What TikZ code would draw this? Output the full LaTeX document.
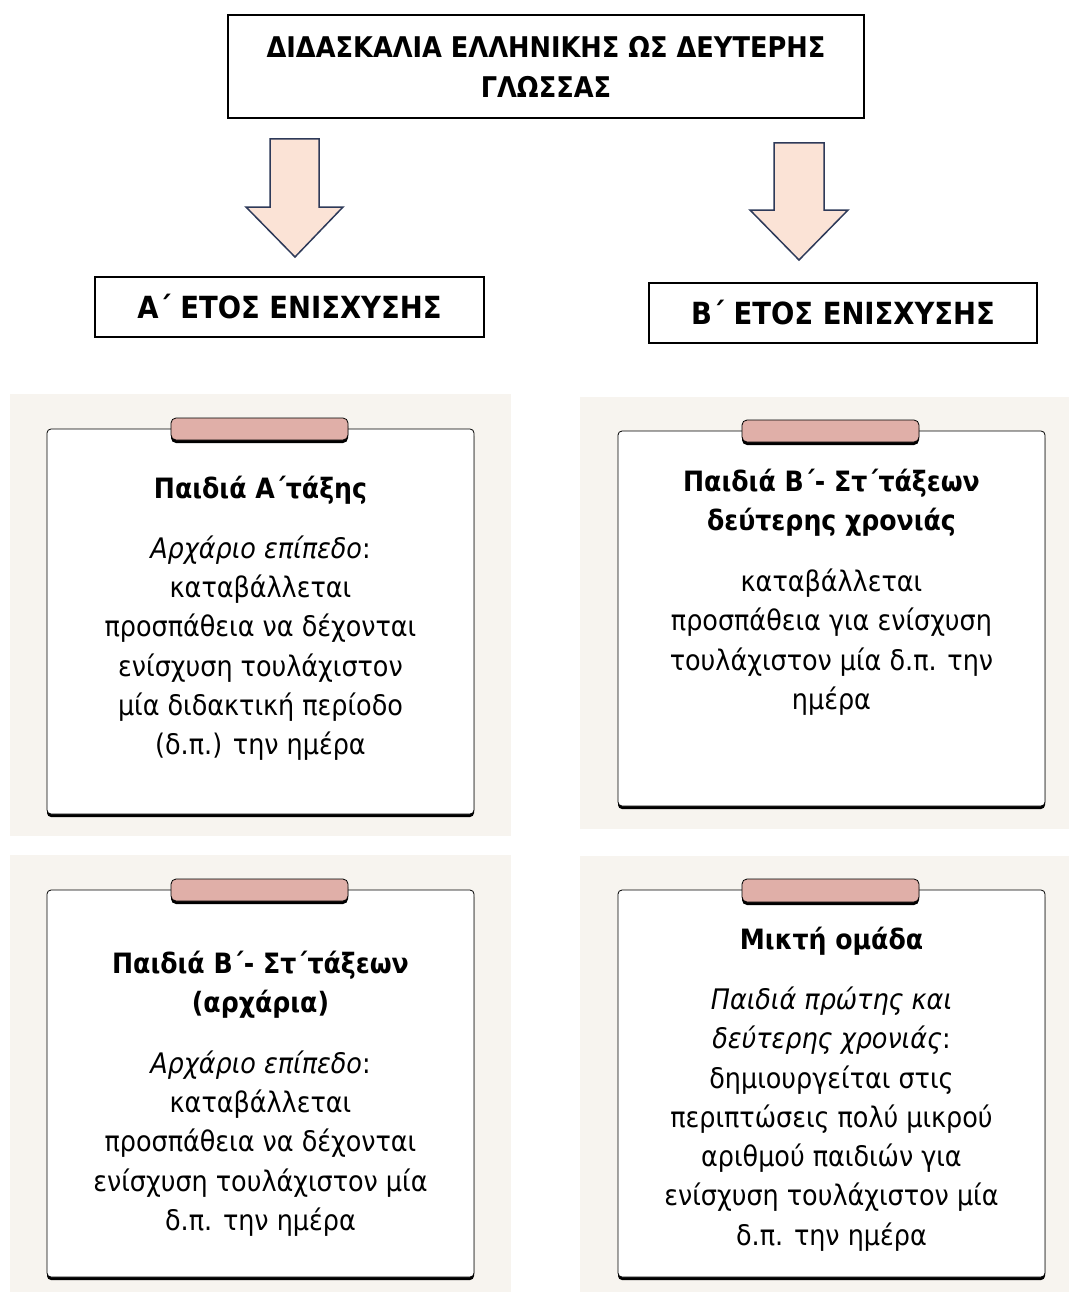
\documentclass[tikz,border=0pt]{standalone}
\usepackage{fontspec}
\setmainfont{DejaVu Sans Condensed}
\definecolor{panelbg}{HTML}{F7F4EF}
\definecolor{tabfill}{HTML}{E0AFA8}
\definecolor{arrowfill}{HTML}{FBE3D6}
\definecolor{arrowline}{HTML}{2E3A59}
\tikzset{
  panel/.style={fill=panelbg, draw=none},
  cardshadow/.style={fill=black, draw=none, rounded corners=4pt},
  card/.style={fill=white, draw=black, line width=0.8pt, rounded corners=4pt},
  tabshadow/.style={fill=black, draw=none, rounded corners=5pt},
  tabbox/.style={fill=tabfill, draw=black, line width=0.8pt, rounded corners=5pt},
  hdr/.style={draw=black, line width=2.8pt, fill=white, inner sep=0pt, align=center,
              font=\fontsize{28.5}{40}\selectfont\bfseries},
  yearbox/.style={draw=black, line width=1.8pt, fill=white, inner sep=0pt, align=center,
              minimum height=60, font=\fontsize{30.5}{36}\selectfont\bfseries},
  blockarrow/.style={fill=arrowfill, draw=arrowline, line width=1.5pt, line join=miter},
  ctitle/.style={align=center, inner sep=0pt, font=\fontsize{28}{39.3}\selectfont\bfseries},
  cbody/.style={align=center, inner sep=0pt, font=\fontsize{28.3}{39.3}\selectfont},
}
\begin{document}
\begin{tikzpicture}[x=1pt,y=-1pt]
\useasboundingbox (0,0) rectangle (1069,1292);
\fill[white] (0,0) rectangle (1069,1292);

% header
\node[hdr, minimum width=636, minimum height=103] (title) at (546,66.5)
  {ΔΙΔΑΣΚΑΛΙΑ ΕΛΛΗΝΙΚΗΣ ΩΣ ΔΕΥΤΕΡΗΣ\\ΓΛΩΣΣΑΣ};

% block arrows
\draw[blockarrow] (270,139) -- (319,139) -- (319,207) -- (343,207) -- (295,257)
   -- (246,207) -- (270,207) -- cycle;
\draw[blockarrow] (774,143) -- (824,143) -- (824,210) -- (848,210) -- (799,260)
   -- (750,210) -- (774,210) -- cycle;

% year boxes
\node[yearbox, minimum width=389] (yearA) at (289.5,307) {Α΄ ΕΤΟΣ ΕΝΙΣΧΥΣΗΣ};
\node[yearbox, minimum width=388] (yearB) at (843,313) {Β΄ ΕΤΟΣ ΕΝΙΣΧΥΣΗΣ};

% panels
\fill[panel] (10,394) rectangle (511,836);
\fill[panel] (580,397) rectangle (1069,829);
\fill[panel] (10,855) rectangle (511,1292);
\fill[panel] (580,856) rectangle (1069,1292);

% cards
\fill[cardshadow] (47,432) rectangle (474,817);
\draw[card] (47,429) rectangle (474,814);
\fill[tabshadow] (171,421) rectangle (348,443);
\draw[tabbox] (171,418) rectangle (348,440);

\fill[cardshadow] (618,434) rectangle (1045,809);
\draw[card] (618,431) rectangle (1045,806);
\fill[tabshadow] (742,423) rectangle (919,445);
\draw[tabbox] (742,420) rectangle (919,442);

\fill[cardshadow] (47,893) rectangle (474,1280);
\draw[card] (47,890) rectangle (474,1277);
\fill[tabshadow] (171,882) rectangle (348,904);
\draw[tabbox] (171,879) rectangle (348,901);

\fill[cardshadow] (618,893) rectangle (1045,1280);
\draw[card] (618,890) rectangle (1045,1277);
\fill[tabshadow] (742,882) rectangle (919,905);
\draw[tabbox] (742,879) rectangle (919,902);

% card texts
\node[ctitle] (t1) at (260.5,490) {Παιδιά Α΄τάξης};
\node[cbody] (b1) at (260.5,648) {\textit{Αρχάριο επίπεδο}:\\καταβάλλεται\\προσπάθεια να δέχονται\\ενίσχυση τουλάχιστον\\μία διδακτική περίοδο\\(δ.π.) την ημέρα};

\node[ctitle] (t2) at (831.5,502.5) {Παιδιά Β΄- Στ΄τάξεων\\δεύτερης χρονιάς};
\node[cbody] (b2) at (831.5,642) {καταβάλλεται\\προσπάθεια για ενίσχυση\\τουλάχιστον μία δ.π. την\\ημέρα};

\node[ctitle] (t3) at (260.5,984.5) {Παιδιά Β΄- Στ΄τάξεων\\(αρχάρια)};
\node[cbody] (b3) at (260.5,1143.5) {\textit{Αρχάριο επίπεδο}:\\καταβάλλεται\\προσπάθεια να δέχονται\\ενίσχυση τουλάχιστον μία\\δ.π. την ημέρα};

\node[ctitle] (t4) at (831.5,941) {Μικτή ομάδα};
\node[cbody] (b4) at (831.5,1119) {\textit{Παιδιά πρώτης και}\\\textit{δεύτερης χρονιάς}:\\δημιουργείται στις\\περιπτώσεις πολύ μικρού\\αριθμού παιδιών για\\ενίσχυση τουλάχιστον μία\\δ.π. την ημέρα};
\end{tikzpicture}
\end{document}
